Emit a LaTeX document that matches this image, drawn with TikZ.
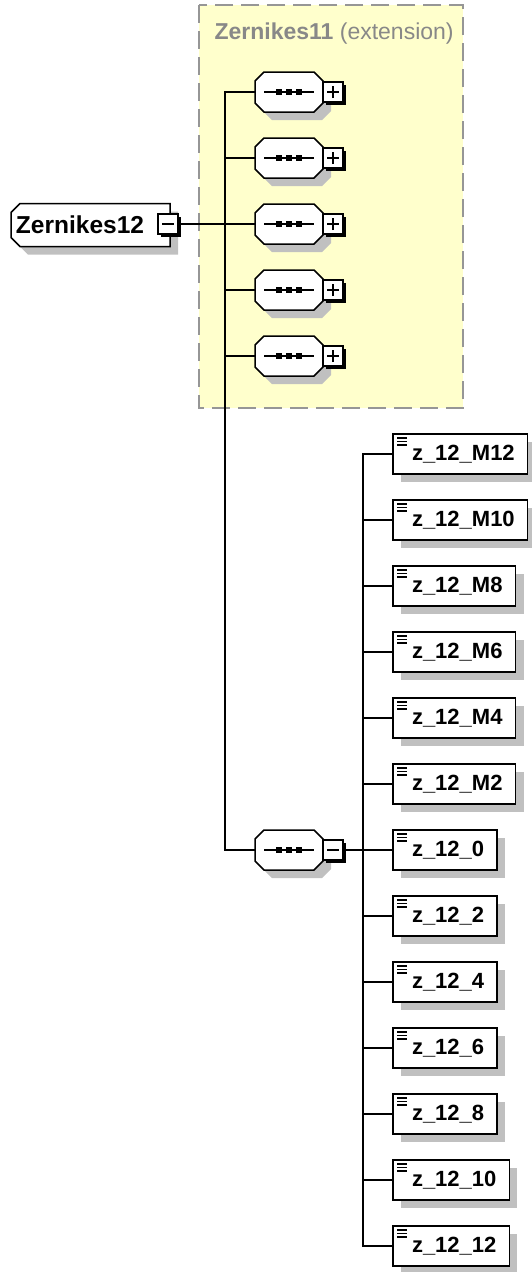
\documentclass[tikz,border=0pt]{standalone}
\usepackage{fontspec}
\setmainfont{Liberation Sans}
\usetikzlibrary{positioning,shadows,backgrounds}

\definecolor{extfill}{RGB}{255,255,204}
\definecolor{extline}{RGB}{150,150,150}
\definecolor{exttext}{RGB}{136,136,136}
\definecolor{shadowgray}{RGB}{192,192,192}

% outline of a sequence compositor (all four corners cut)
\newcommand{\octpath}[1]{([xshift=9pt]#1.north west) -- ([xshift=-9pt]#1.north east)
  -- ([yshift=-9pt]#1.north east) -- ([yshift=9pt]#1.south east)
  -- ([xshift=-9pt]#1.south east) -- ([xshift=9pt]#1.south west)
  -- ([yshift=9pt]#1.south west) -- ([yshift=-9pt]#1.north west) -- cycle}
% outline of the root element (left corners cut)
\newcommand{\lcutpath}[1]{([xshift=9pt]#1.north west) -- (#1.north east)
  -- (#1.south east) -- ([xshift=9pt]#1.south west)
  -- ([yshift=9pt]#1.south west) -- ([yshift=-9pt]#1.north west) -- cycle}
\newcommand{\seqglyph}[1]{%
  \draw[line width=1.5pt] ([xshift=-25pt]#1.center) -- ([xshift=25pt]#1.center);
  \foreach \d in {-10,0,10}
    \fill[black] ([xshift=\d pt]#1.center) +(-2.8pt,-2.8pt) rectangle +(2.8pt,2.8pt);}

\begin{document}
\begin{tikzpicture}[x=1pt,y=-1pt,
  font=\fontsize{22}{26}\selectfont,
  conn/.style={line width=1.5pt},
  shade/.style={general shadow={fill=shadowgray,shadow xshift=8pt,shadow yshift=-8pt}},
  cast/.style={fill=shadowgray,transform canvas={shift={(8pt,-8pt)}}},
  outline/.style={draw,fill=white,line width=1.5pt},
  elem/.style={draw,fill=white,line width=1.5pt,minimum height=40pt,outer sep=0pt,
    inner xsep=0pt,inner ysep=0pt,font=\fontsize{22}{26}\selectfont\bfseries,
    execute at begin node={\hspace*{19pt}},execute at end node={\hspace*{13pt}},
    shade,
    path picture={\foreach \d in {4,7.5,11}
      \draw[line width=1.3pt] ([xshift=4pt,yshift=-\d pt]path picture bounding box.north west) -- ++(10pt,0pt);}},
  seqbox/.style={minimum width=68pt,minimum height=40pt,inner sep=0pt,outer sep=0pt},
  pmbox/.style={draw,fill=white,line width=1.2pt,minimum width=20pt,minimum height=20pt,
    inner sep=0pt,outer sep=0pt,general shadow={fill=black,shadow xshift=2.5pt,shadow yshift=-2.5pt}},
  plusbox/.style={pmbox,path picture={
      \draw[line width=1.3pt] ([xshift=-6pt]path picture bounding box.center) -- ([xshift=6pt]path picture bounding box.center)
        ([yshift=-6pt]path picture bounding box.center) -- ([yshift=6pt]path picture bounding box.center);}},
  minusbox/.style={pmbox,path picture={
      \draw[line width=1.3pt] ([xshift=-6pt]path picture bounding box.center) -- ([xshift=6pt]path picture bounding box.center);}},
  topbox/.style={minimum height=43pt,outer sep=0pt,inner xsep=0pt,inner ysep=0pt,
    font=\fontsize{24.5}{28}\selectfont\bfseries,
    execute at begin node={\hspace*{5pt}},execute at end node={\hspace*{26pt}}}]
\useasboundingbox (0,0) rectangle (531,1272);

% root
\node[topbox,anchor=west] (zk12) at (11,225) {Zernikes12};

% sequences
\node[seqbox] (s1) at (289,92) {};
\node[seqbox, below=26pt of s1] (s2) {};
\node[seqbox, below=26pt of s2] (s3) {};
\node[seqbox, below=26pt of s3] (s4) {};
\node[seqbox, below=26pt of s4] (s5) {};
\node[seqbox] (s6) at (289,850) {};

\begin{scope}[on background layer]
  % extension area
  \draw[fill=extfill,draw=extline,line width=2pt,dash pattern=on 18pt off 8pt] (199,5) rectangle (463,408);
  \fill[cast] \lcutpath{zk12};
  \draw[outline] \lcutpath{zk12};
  \foreach \s in {s1,s2,s3,s4,s5,s6}
    \fill[cast] \octpath{\s};
  \foreach \s in {s1,s2,s3,s4,s5,s6}
    \draw[outline] \octpath{\s};
\end{scope}
\foreach \s in {s1,s2,s3,s4,s5,s6}{\seqglyph{\s}}

\node[anchor=west,text=exttext,font=\fontsize{23}{27}\selectfont] (ttl) at (211,34) {\textbf{Zernikes11} (extension)};
\node[minusbox] (zk12m) at (168,224) {};
\node[plusbox, right=0pt of s1] (s1p) {};
\node[plusbox, right=0pt of s2] (s2p) {};
\node[plusbox, right=0pt of s3] (s3p) {};
\node[plusbox, right=0pt of s4] (s4p) {};
\node[plusbox, right=0pt of s5] (s5p) {};
\node[minusbox, right=0pt of s6] (s6m) {};

% elements
\node[elem,anchor=west] (zm12) at (393,454) {z\_12\_M12};
\node[elem, below=26pt of zm12.south west, anchor=north west] (zm10) {z\_12\_M10};
\node[elem, below=26pt of zm10.south west, anchor=north west] (zm8) {z\_12\_M8};
\node[elem, below=26pt of zm8.south west, anchor=north west] (zm6) {z\_12\_M6};
\node[elem, below=26pt of zm6.south west, anchor=north west] (zm4) {z\_12\_M4};
\node[elem, below=26pt of zm4.south west, anchor=north west] (zm2) {z\_12\_M2};
\node[elem, below=26pt of zm2.south west, anchor=north west] (z0) {z\_12\_0};
\node[elem, below=26pt of z0.south west, anchor=north west] (z2) {z\_12\_2};
\node[elem, below=26pt of z2.south west, anchor=north west] (z4) {z\_12\_4};
\node[elem, below=26pt of z4.south west, anchor=north west] (z6) {z\_12\_6};
\node[elem, below=26pt of z6.south west, anchor=north west] (z8) {z\_12\_8};
\node[elem, below=26pt of z8.south west, anchor=north west] (z10) {z\_12\_10};
\node[elem, below=26pt of z10.south west, anchor=north west] (z12) {z\_12\_12};

% connectors
\coordinate (trunk) at (225,0);
\coordinate (trunkb) at (363,0);
\draw[conn] (zk12m.east) -- (s3.west);
\draw[conn] (s1.west) -- (s1.west -| trunk) -- (s6.west -| trunk) -- (s6.west);
\foreach \s in {s2,s4,s5}
  \draw[conn] (\s.west) -- (\s.west -| trunk);
\draw[conn] (zm12.west) -- (zm12.west -| trunkb) -- (z12.west -| trunkb) -- (z12.west);
\draw[conn] (s6m.east) -- (z0.west);
\foreach \e in {zm10,zm8,zm6,zm4,zm2,z2,z4,z6,z8,z10}
  \draw[conn] (\e.west) -- (\e.west -| trunkb);
\end{tikzpicture}
\end{document}
